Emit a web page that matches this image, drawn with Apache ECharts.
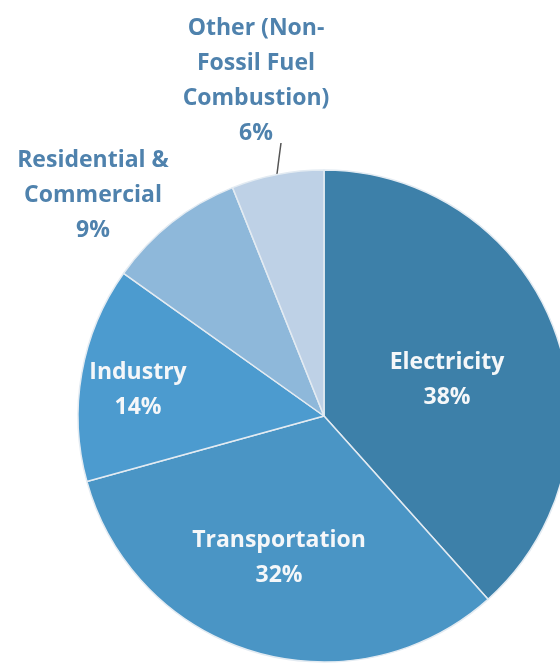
<!DOCTYPE html>
<html><head><meta charset="utf-8">
<script src="https://cdn.jsdelivr.net/npm/echarts@6/dist/echarts.min.js"></script>
<style>html,body{margin:0;padding:0;background:#fff}#c{width:560px;height:663px}</style>
</head><body><div id="c"></div>
<script>
const categories = ['Electricity', 'Transportation', 'Industry', 'Residential & Commercial', 'Other (Non-Fossil Fuel Combustion)'];
const labelTexts = ['Electricity', 'Transportation', 'Industry', 'Residential &\nCommercial', 'Other (Non-\nFossil Fuel\nCombustion)'];
const values = [38, 32, 14, 9, 6];

// styling / placement (not data)
const colors = ['#3d80a9', '#4a95c5', '#4c9bcf', '#8eb8da', '#bed1e6'];
const insideLabel = [true, true, true, false, false];
const labelCenters = [[447, 380], [279, 558], [138, 390], [93, 195], [256, 81]];
const otherLeader = [[281, 143], [279, 158], [277, 174]];

const chart = echarts.init(document.getElementById('c'), null, {renderer: 'canvas'});
chart.setOption({
  animation: false,
  backgroundColor: '#ffffff',
  series: [{
    type: 'pie',
    center: [324, 416],
    radius: [0, 246],
    startAngle: 90,
    clockwise: true,
    avoidLabelOverlap: false,
    itemStyle: {borderColor: '#e3ebf2', borderWidth: 1.5},
    label: {
      fontFamily: 'Open Sans',
      fontWeight: 'bold',
      fontSize: 23,
      lineHeight: 35,
      align: 'center',
      formatter: p => labelTexts[p.dataIndex] + '\n' + p.value + '%'
    },
    labelLine: {show: false},
    labelLayout: function (params) {
      const i = params.dataIndex;
      const pos = labelCenters[i];
      const o = {x: pos[0], y: pos[1], align: 'center', verticalAlign: 'middle'};
      if (i === 4) o.labelLinePoints = otherLeader;
      return o;
    },
    data: categories.map((name, i) => ({
      name: name,
      value: values[i],
      itemStyle: {color: colors[i]},
      label: insideLabel[i]
        ? {position: 'inside', color: '#f5f7f9'}
        : {position: 'outside', color: '#4f82ad'},
      labelLine: i === 4
        ? {show: true, length: 5, length2: 5, lineStyle: {color: '#555555', width: 1.5}}
        : {show: false}
    }))
  }]
});
</script>
</body></html>
